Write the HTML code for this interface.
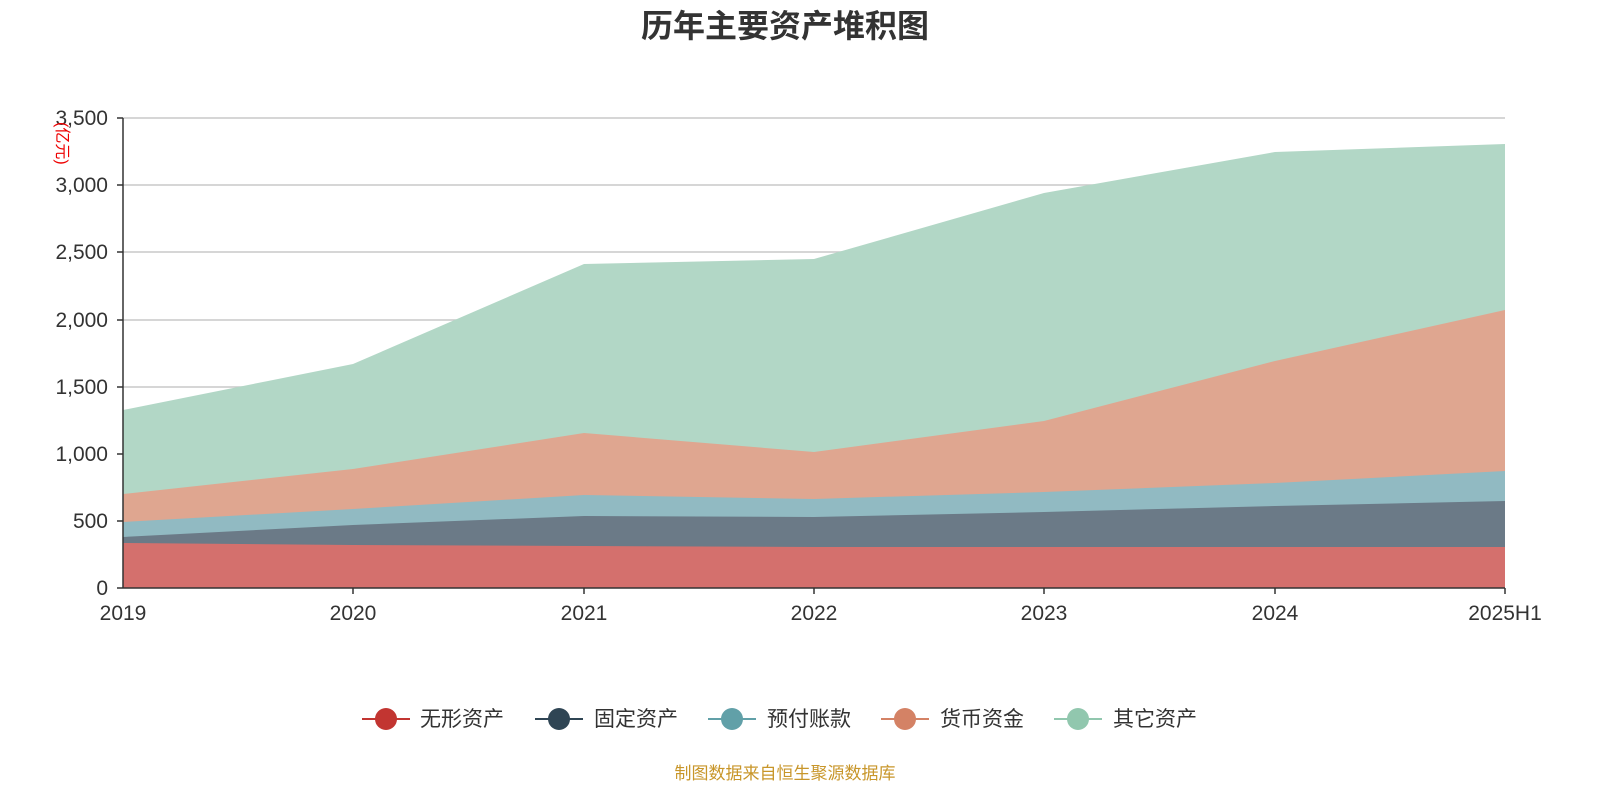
<!DOCTYPE html>
<html><head><meta charset="utf-8"><style>
body{margin:0;background:#fff;}
text{font-family:"Liberation Sans","Noto Sans CJK SC",sans-serif;}
</style></head><body>
<svg width="1600" height="800" xmlns="http://www.w3.org/2000/svg">
<text x="785" y="37" text-anchor="middle" font-size="32" font-weight="bold" fill="#333">历年主要资产堆积图</text>
<g stroke="#c8c8c8" stroke-width="1.5">
<line x1="123" y1="118" x2="1505" y2="118"/><line x1="123" y1="185" x2="1505" y2="185"/>
<line x1="123" y1="252" x2="1505" y2="252"/><line x1="123" y1="320" x2="1505" y2="320"/>
<line x1="123" y1="387" x2="1505" y2="387"/><line x1="123" y1="454" x2="1505" y2="454"/>
<line x1="123" y1="521" x2="1505" y2="521"/>
</g>
<polygon fill="#b2d7c6" points="123,410 353,364 584,264 814,259 1044,193 1275,152 1505,144 1505,588 123,588"/>
<polygon fill="#dfa690" points="123,494 353,469 584,433 814,452 1044,421 1275,361 1505,310 1505,588 123,588"/>
<polygon fill="#91bac2" points="123,522 353,509 584,495 814,499 1044,492 1275,483 1505,471 1505,588 123,588"/>
<polygon fill="#6b7a87" points="123,537 353,525 584,516 814,517 1044,512 1275,506 1505,501 1505,588 123,588"/>
<polygon fill="#d4706d" points="123,543 353,545 584,546 814,547 1044,547 1275,547 1505,547 1505,588 123,588"/>
<g stroke="#333" stroke-width="1.5">
<line x1="123" y1="118" x2="123" y2="588"/><line x1="123" y1="588" x2="1505" y2="588"/>
<line x1="117" y1="118" x2="123" y2="118"/><line x1="117" y1="185" x2="123" y2="185"/>
<line x1="117" y1="252" x2="123" y2="252"/><line x1="117" y1="320" x2="123" y2="320"/>
<line x1="117" y1="387" x2="123" y2="387"/><line x1="117" y1="454" x2="123" y2="454"/>
<line x1="117" y1="521" x2="123" y2="521"/><line x1="117" y1="588" x2="123" y2="588"/>
<line x1="353" y1="588" x2="353" y2="594"/><line x1="584" y1="588" x2="584" y2="594"/>
<line x1="814" y1="588" x2="814" y2="594"/><line x1="1044" y1="588" x2="1044" y2="594"/>
<line x1="1275" y1="588" x2="1275" y2="594"/><line x1="1505" y1="588" x2="1505" y2="594"/>
</g>
<g font-size="21" fill="#333" text-anchor="end">
<text x="108" y="125">3,500</text><text x="108" y="192">3,000</text><text x="108" y="259">2,500</text>
<text x="108" y="327">2,000</text><text x="108" y="394">1,500</text><text x="108" y="461">1,000</text>
<text x="108" y="528">500</text><text x="108" y="595">0</text>
</g>
<text transform="translate(57,122) rotate(90)" font-size="16" fill="#e00">(亿元)</text>
<g font-size="21" fill="#333" text-anchor="middle">
<text x="123" y="620">2019</text><text x="353" y="620">2020</text><text x="584" y="620">2021</text>
<text x="814" y="620">2022</text><text x="1044" y="620">2023</text><text x="1275" y="620">2024</text>
<text x="1505" y="620">2025H1</text>
</g>
<g font-size="21" fill="#333">
<line x1="362" y1="719" x2="410" y2="719" stroke="#c23531" stroke-width="2"/><circle cx="386" cy="719" r="11" fill="#c23531"/><text x="420" y="726">无形资产</text>
<line x1="535" y1="719" x2="583" y2="719" stroke="#2f4554" stroke-width="2"/><circle cx="559" cy="719" r="11" fill="#2f4554"/><text x="594" y="726">固定资产</text>
<line x1="708" y1="719" x2="756" y2="719" stroke="#61a0a8" stroke-width="2"/><circle cx="732" cy="719" r="11" fill="#61a0a8"/><text x="767" y="726">预付账款</text>
<line x1="881" y1="719" x2="929" y2="719" stroke="#d48265" stroke-width="2"/><circle cx="905" cy="719" r="11" fill="#d48265"/><text x="940" y="726">货币资金</text>
<line x1="1054" y1="719" x2="1102" y2="719" stroke="#91c7ae" stroke-width="2"/><circle cx="1078" cy="719" r="11" fill="#91c7ae"/><text x="1113" y="726">其它资产</text>
</g>
<text x="785" y="779" text-anchor="middle" font-size="17" fill="#c8962a">制图数据来自恒生聚源数据库</text>
</svg>
</body></html>
